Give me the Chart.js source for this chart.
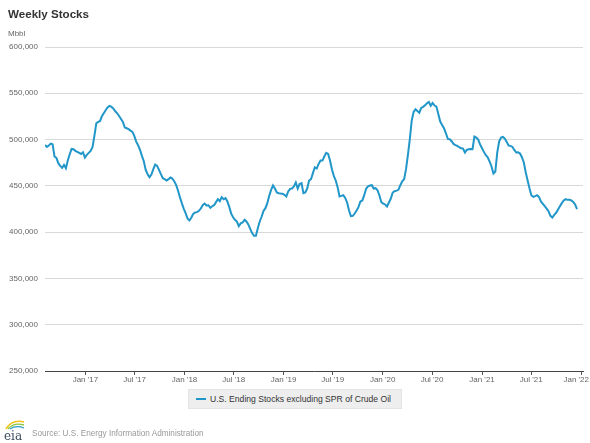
<!DOCTYPE html>
<html><head><meta charset="utf-8">
<script src="https://cdn.jsdelivr.net/npm/chart.js@4.4.1/dist/chart.umd.min.js"></script>
<style>
html,body{margin:0;padding:0;background:#fff;width:590px;height:443px;overflow:hidden;font-family:"Liberation Sans",Arial,sans-serif;}
#wrap{position:relative;width:590px;height:443px;}
#c{position:absolute;left:0;top:0;}
#title{position:absolute;left:8px;top:7px;font-size:11.6px;font-weight:bold;color:#333;white-space:nowrap;}
#unit{position:absolute;left:8px;top:29px;font-size:8px;color:#666;white-space:nowrap;}
#legend{position:absolute;left:188px;top:389px;width:214px;height:20px;background:#eeeeee;border:1px solid #e4e4e4;box-sizing:border-box;font-size:8.6px;color:#333;display:flex;align-items:center;white-space:nowrap;}
#legend .sym{display:inline-block;width:10px;height:2px;margin-left:7px;margin-right:4px;}
#logo{position:absolute;left:2px;top:418px;}
#source{position:absolute;left:32px;top:429px;font-size:8.2px;color:#999;white-space:nowrap;}
</style>
</head><body>
<div id="wrap">
<canvas id="c" width="590" height="443"></canvas>
<div id="title"></div>
<div id="unit"></div>
<div id="legend"></div>
<svg id="logo" width="26" height="24" viewBox="0 0 26 24">
  <path d="M4 11 Q10 1 22 4" stroke="#f2c21b" stroke-width="1.6" fill="none"/>
  <path d="M6 11 Q12 4 22 7" stroke="#8cc63f" stroke-width="1.4" fill="none"/>
  <path d="M8 11 Q14 7 22 10" stroke="#2a9bc9" stroke-width="1.2" fill="none"/>
  <text x="2" y="22" font-family="DejaVu Serif, serif" font-size="12" fill="#3a4a5c">eia</text>
</svg>
<div id="source"></div>
</div>
<script>
const chartTitle = "Weekly Stocks";
const unitLabel = "Mbbl";
const seriesName = "U.S. Ending Stocks excluding SPR of Crude Oil";
const sourceText = "Source: U.S. Energy Information Administration";
const lineColor = "#2196c8";

// weekly observations, first week ending 2016-08-05, one value per week
const firstWeek = "2016-08-05";
const stocksMbbl = [
494200,492100,493500,495700,495000,481700,480200,474500,471600,469500,
472700,469000,477300,484200,489900,489600,487800,486700,485600,484500,
486300,480600,483500,485600,487800,491700,504000,517600,519100,520100,
525500,528800,532000,534900,536300,535300,533500,530600,528400,525500,
522300,519100,513000,512200,511200,509700,508300,504000,497800,493900,
488800,482400,476600,467300,462600,459400,462200,468000,473000,471600,
467300,462600,458300,457200,455800,457200,459000,457900,455000,451100,
445000,437800,431300,425500,420500,414800,412600,415500,419800,421200,
421600,423000,425500,429100,430900,428800,429100,426300,428000,429100,
432400,435600,433400,437800,435600,436700,433100,427000,420000,416000,
413300,411500,406500,409500,410400,413300,411500,408300,403600,399000,
396100,396100,404300,411500,416600,423000,425900,431300,439200,445700,
450400,447100,442800,442100,441700,441400,440300,438500,443900,446800,
447100,449300,453600,447000,452000,452900,442100,442800,447100,455800,
457200,463700,470100,468700,473700,477300,477300,481700,485600,484500,
477300,468000,460800,455800,448600,438500,439200,439900,437000,432000,
423400,417300,417600,420100,423400,427300,433100,434200,439900,446800,
449600,450400,450700,447100,447500,445300,439600,432400,430900,429900,
427700,432000,436300,442800,444200,444900,445700,450700,455000,457200,
468000,483500,500400,520500,529900,532700,530900,529000,534200,535300,
537000,539200,540600,536500,539500,536700,535600,527700,519400,515800,
512200,506800,500700,500400,498200,495300,493900,493200,491700,490600,
490300,486000,488800,489600,489900,489600,503200,502200,500000,494600,
490600,486700,483100,480900,476300,470900,463300,465500,486000,497800,
502200,502900,501100,497500,493500,493200,492100,488800,486000,486300,
484900,480900,475200,464700,455800,447100,439600,438100,438900,439900,
437800,433100,430600,428000,425500,422700,417600,415800,418700,420900,
424400,428000,431300,434200,435600,434900,434900,434200,432700,429900,
424800];

const tickDates = ["2017-01-01","2017-07-01","2018-01-01","2018-07-01","2019-01-01","2019-07-01","2020-01-01","2020-07-01","2021-01-01","2021-07-01","2022-01-01"];
const tickLabels = ["Jan '17","Jul '17","Jan '18","Jul '18","Jan '19","Jul '19","Jan '20","Jul '20","Jan '21","Jul '21","Jan '22"];
const xStart = "2016-08-05";
const xEnd = "2022-01-08";
const yMin = 250000, yMax = 600000, yStep = 50000;

const DAY = 86400000;
const toDay = s => Date.parse(s + "T00:00:00Z") / DAY;
const w0 = toDay(firstWeek);
const points = stocksMbbl.map((v, i) => ({x: w0 + 7 * i, y: v}));
const tickVals = tickDates.map(toDay);

document.getElementById('title').textContent = chartTitle;
document.getElementById('unit').textContent = unitLabel;
document.getElementById('source').textContent = sourceText;
const lg = document.getElementById('legend');
const sym = document.createElement('span'); sym.className = 'sym'; sym.style.background = lineColor;
lg.appendChild(sym);
lg.appendChild(document.createTextNode(seriesName));

const FONT = '"Liberation Sans", Arial, sans-serif';

const xLabels = {
  id: 'xLabels',
  afterDraw(chart) {
    const s = chart.scales.x, ctx = chart.ctx;
    ctx.save();
    ctx.font = '8px ' + FONT;
    ctx.fillStyle = '#666';
    ctx.textBaseline = 'top';
    ctx.textAlign = 'left';
    tickVals.forEach((v, i) => {
      const px = s.getPixelForValue(v);
      const w = ctx.measureText(tickLabels[i]).width;
      let left = px - w / 2;
      if (left + w > chart.width - 1) left = chart.width - 1 - w;
      ctx.fillText(tickLabels[i], left, chart.chartArea.bottom + 5);
    });
    ctx.restore();
  }
};

new Chart(document.getElementById('c'), {
  type: 'line',
  data: { datasets: [{ label: seriesName, data: points, borderColor: lineColor, backgroundColor: lineColor,
    borderWidth: 2, pointRadius: 0, tension: 0, fill: false }] },
  options: {
    responsive: false, animation: false,
    layout: { padding: { top: 47, right: 7, left: 0, bottom: 0 } },
    plugins: { legend: { display: false }, title: { display: false }, tooltip: { enabled: false } },
    scales: {
      x: {
        type: 'linear', min: toDay(xStart), max: toDay(xEnd),
        afterBuildTicks: s => { s.ticks = tickVals.map(v => ({ value: v })); },
        ticks: { display: false },
        grid: { drawOnChartArea: false, drawTicks: true, tickLength: 4, tickColor: '#555', lineWidth: 1 },
        border: { display: true, color: '#444', width: 1 },
        afterFit: s => { s.height = 72; s.paddingLeft = 0; s.paddingRight = 0; }
      },
      y: {
        min: yMin, max: yMax,
        ticks: { stepSize: yStep, font: { size: 8, family: FONT }, color: '#666', padding: 7,
          callback: v => Number(v).toLocaleString('en-US') },
        grid: { color: '#d9d9d9', drawTicks: false, lineWidth: 1 },
        border: { display: false },
        afterFit: s => { s.width = 45; }
      }
    }
  },
  plugins: [xLabels]
});
</script>
</body></html>
